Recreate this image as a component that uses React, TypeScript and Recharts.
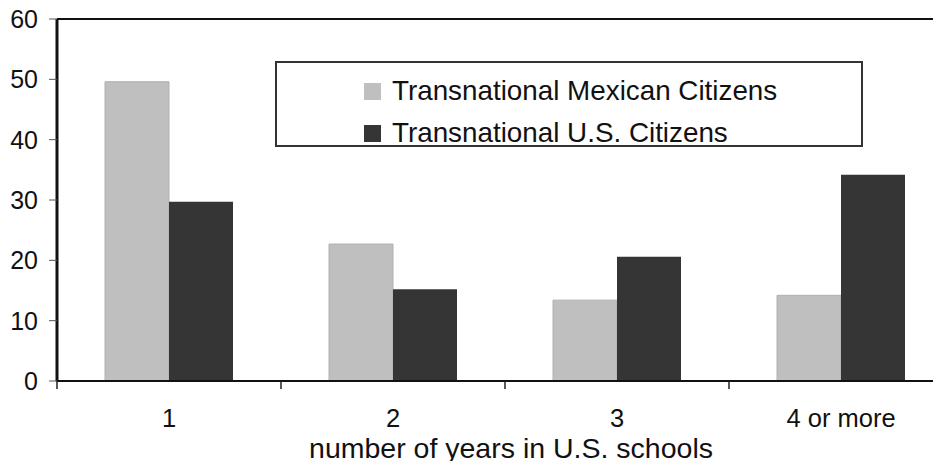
import { BarChart, Bar, XAxis, YAxis, Legend, ReferenceLine } from "recharts";

const categories = ["1", "2", "3", "4 or more"];
const mexicanCitizens = [49.6, 22.7, 13.4, 14.2];
const usCitizens = [29.7, 15.2, 20.6, 34.2];
const yTicks = [0, 10, 20, 30, 40, 50, 60];

const data = categories.map((years, i) => ({
  years,
  mexican: mexicanCitizens[i],
  us: usCitizens[i],
}));

const FONT = "'Liberation Sans', Arial, sans-serif";
const TICK_SIZE = 8;
const TICK_MARGIN = 20;

// category labels sit at band centres, tick marks at band boundaries
const CategoryTick = (props: any) => {
  const { x, y, payload } = props;
  const half = payload && payload.offset ? payload.offset : 0;
  const axisY = y - TICK_SIZE - TICK_MARGIN;
  return (
    <g>
      <line x1={x - half} x2={x - half} y1={axisY} y2={axisY + TICK_SIZE} stroke="#222" strokeWidth={1.5} />
      <text x={x} y={y} dy="0.71em" textAnchor="middle" fontSize={25.5} fontFamily={FONT} fill="#111">
        {payload.value}
      </text>
    </g>
  );
};

const LegendBox = (props: any) => {
  const items = props.payload || [];
  return (
    <div style={{ paddingTop: 7 }}>
      {items.map((it: any) => (
        <div key={it.value} style={{ display: "flex", alignItems: "center", height: 42, paddingLeft: 87 }}>
          <span style={{ width: 17, height: 17, background: it.color, display: "inline-block", marginRight: 11 }} />
          <span style={{ fontSize: 27.8, fontFamily: FONT, color: "#111", lineHeight: "28px" }}>{it.value}</span>
        </div>
      ))}
    </div>
  );
};

export default function App() {
  return (
    <div style={{ width: 933, height: 453, overflow: "hidden" }}>
      <BarChart
        width={950}
        height={453}
        data={data}
        margin={{ top: 11, right: 5, left: 0, bottom: 0 }}
        barCategoryGap={48}
        barGap={0}
      >
        <ReferenceLine y={60} stroke="#111" strokeWidth={2} ifOverflow="visible" />
        <XAxis
          dataKey="years"
          height={80}
          axisLine={{ stroke: "#111", strokeWidth: 2 }}
          tickLine={{ stroke: "none" }}
          tickSize={TICK_SIZE}
          tickMargin={TICK_MARGIN}
          tick={<CategoryTick />}
          interval={0}
          label={{
            value: "number of years in U.S. schools",
            position: "insideBottom",
            offset: 3,
            dx: 6,
            fontSize: 28.5,
            fontFamily: FONT,
            fill: "#111",
          }}
        />
        <YAxis
          width={49}
          domain={[0, 60]}
          ticks={yTicks}
          interval={0}
          axisLine={{ stroke: "#111", strokeWidth: 3 }}
          tickLine={{ stroke: "#555", strokeWidth: 1 }}
          tickSize={TICK_SIZE}
          tickMargin={11}
          tick={{ fontSize: 25, fontFamily: FONT, fill: "#111" }}
        />
        <Legend
          verticalAlign="middle"
          align="center"
          layout="vertical"
          content={<LegendBox />}
          wrapperStyle={{
            left: 267,
            top: 53,
            width: 588,
            height: 86,
            border: "2px solid #333",
            boxSizing: "border-box",
            background: "#fff",
          }}
        />
        <Bar dataKey="mexican" name="Transnational Mexican Citizens" fill="#bfbfbf" stroke="#b0b0b0" strokeWidth={1} isAnimationActive={false} />
        <Bar dataKey="us" name="Transnational U.S. Citizens" fill="#353535" isAnimationActive={false} />
      </BarChart>
    </div>
  );
}
